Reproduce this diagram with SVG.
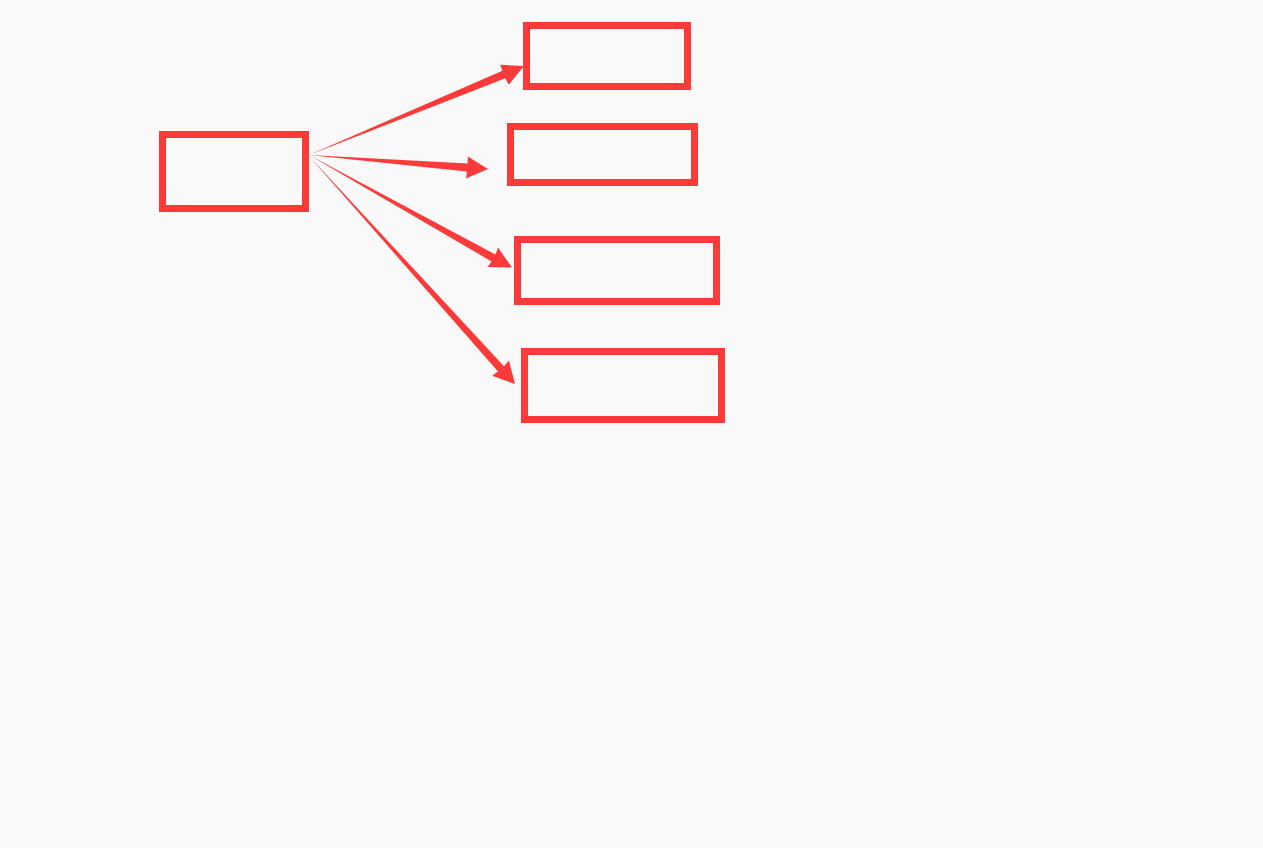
<svg xmlns="http://www.w3.org/2000/svg" width="1263" height="848" viewBox="0 0 1263 848">
<style>
.box{fill:none;stroke:#fd3a3a;stroke-width:7}
.arr{fill:#fd3a3a;stroke:none}
</style>
<rect width="1263" height="848" fill="#f9f9f9"/>
<g id="source"><rect class="box" x="162.5" y="134.5" width="143" height="74"/></g>
<g id="target1"><rect class="box" x="526.5" y="25.5" width="161" height="61"/></g>
<g id="target2"><rect class="box" x="510.5" y="126.5" width="184" height="56"/></g>
<g id="target3"><rect class="box" x="517.5" y="239.5" width="199" height="62"/></g>
<g id="target4"><rect class="box" x="524.5" y="351.5" width="197" height="68"/></g>
<g id="connectors">
<polygon class="arr" points="309,155 505.4,78.2 508.7,84.8 524,66 500.2,64.7 502.4,70.8"/>
<polygon class="arr" points="309,155 466.8,171.4 466.1,178.4 488,169 467.9,156.4 467.5,163.4"/>
<polygon class="arr" points="309,155 491.5,261.4 487.6,267.1 512,267.5 498,247.6 495.4,254.4"/>
<polygon class="arr" points="309,156 498,371.6 492.2,375.8 515,384 509,360.4 504,366.3"/>
</g>
</svg>
